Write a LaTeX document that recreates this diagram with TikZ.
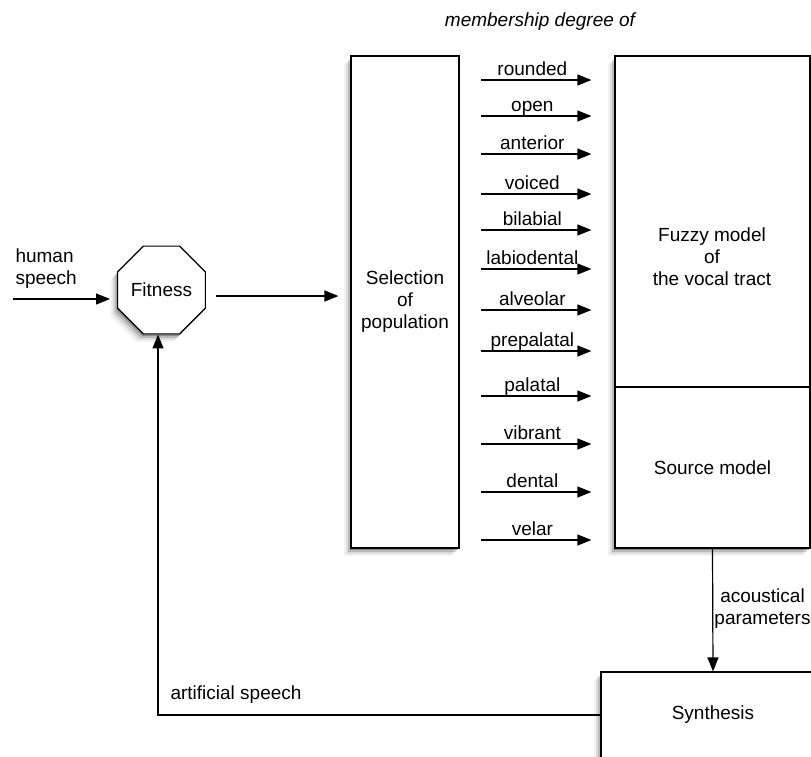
\documentclass[tikz,border=0pt]{standalone}
\usepackage{fontspec}
\setmainfont{Liberation Sans}
\usetikzlibrary{shapes.geometric,arrows.meta,shadows,calc}
\tikzset{
  softshadow/.style={
    drop shadow={shadow xshift=-1pt,shadow yshift=-2pt,opacity=.25,fill=black},
    drop shadow={shadow xshift=-3pt,shadow yshift=-4pt,opacity=.16,fill=black},
    drop shadow={shadow xshift=-5pt,shadow yshift=-6pt,opacity=.09,fill=black},
    drop shadow={shadow xshift=-7pt,shadow yshift=-8pt,opacity=.05,fill=black}},
  box/.style={draw,line width=1.2pt,fill=white,rectangle,inner sep=0pt,align=center,softshadow},
  lbl/.style={font=\fontsize{19}{22}\selectfont,align=center},
  arr/.style={line width=1.2pt,-{Triangle[length=14pt,width=11pt]}},
}
\begin{document}
\begin{tikzpicture}[x=1pt,y=-1pt,font=\fontsize{19}{22}\selectfont]
\useasboundingbox (0,0) rectangle (811,756);
% boxes
\node[box,minimum width=108pt,minimum height=492pt] (sel) at (405,302) {Selection\\of\\population};
\node[box,minimum width=195pt,minimum height=331pt] (fuz) at (712.5,221.5) {};
\node[box,minimum width=195pt,minimum height=161pt] (src) at (712.5,467.5) {Source model};
\node[lbl] (fuzt) at (712,257) {Fuzzy model\\of\\the vocal tract};
\node[box,minimum width=224pt,minimum height=86pt] (syn) at (713,715) {Synthesis};
\node[draw,line width=1.2pt,fill=white,regular polygon,regular polygon sides=8,minimum size=95pt,inner sep=0pt,softshadow] (fit) at (161.5,290) {Fitness};
% texts
\node[lbl,font=\fontsize{19}{22}\selectfont\itshape] (memb) at (540,22) {membership degree of};
\node[lbl,anchor=west,align=left] (hum) at (12,269) {human\\speech};
\node[lbl] (acou) at (762.5,609) {acoustical\\parameters};
\node[lbl,anchor=west] (art) at (167,695) {artificial speech};
% connectors
\coordinate (hs) at (13,299);
\draw[arr,shorten >=7pt] (hs) -- (hs -| fit.west);
\draw[arr,shorten <=10pt,shorten >=12pt] (fit.east |- 0,296) -- (sel.west |- 0,296);
\foreach \yy/\lab in {80/rounded,116/open,154/anterior,194/voiced,230/bilabial,269/labiodental,310/alveolar,351/prepalatal,396/palatal,444/vibrant,492/dental,540/velar}{
  \draw[arr,shorten <=21pt,shorten >=23pt] (sel.east |- 0,\yy) -- (fuz.west |- 0,\yy)
    node[pos=.47,anchor=base,yshift=4.5pt,inner sep=0pt] {\lab};
}
\draw[arr] (src.south) -- (syn.north);
\draw[arr] (syn.west) -| ($(fit.south)+(-3.5,0)$);
\end{tikzpicture}
\end{document}
